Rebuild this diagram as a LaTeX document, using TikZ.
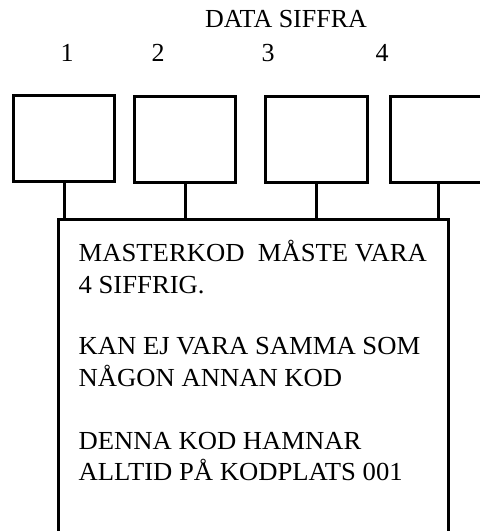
\documentclass[tikz,border=0pt]{standalone}
\usepackage{fontspec}
\setmainfont{Liberation Serif}
\begin{document}
\begin{tikzpicture}[x=1pt,y=-1pt,line width=3.3pt,
  digitbox/.style={draw, minimum height=86pt, inner sep=0pt, anchor=north west},
  lbl/.style={inner sep=0pt, anchor=base, font=\fontsize{26}{32}\selectfont},
  txtline/.style={inner sep=0pt, anchor=base west, font=\fontsize{26}{32}\selectfont, xscale=1.025}]
\useasboundingbox (0,0) rectangle (480,531);
\clip (0,0) rectangle (480,531);
\node[lbl] (title) at (286,27) {DATA SIFFRA};
\node[lbl] (d1) at (67,61) {1};
\node[lbl] (d2) at (158,61) {2};
\node[lbl] (d3) at (268,61) {3};
\node[lbl] (d4) at (382,61) {4};
\node[digitbox, minimum width=101pt] (b1) at (12,94) {};
\node[digitbox, minimum width=101pt] (b2) at (133,95) {};
\node[digitbox, minimum width=102pt] (b3) at (264,95) {};
\node[digitbox, minimum width=96pt] (b4) at (389,95) {};
\node[draw, minimum width=390pt, minimum height=330pt, inner sep=0pt, anchor=north west] (big) at (57,218) {};
\foreach \b in {b1,b2,b3,b4} {\draw (\b.south) -- (\b.south |- big.north);}
\node[txtline] (t1) at (77,261) {MASTERKOD\ \ MÅSTE VARA};
\node[txtline] (t2) at (77,293) {4 SIFFRIG.};
\node[txtline] (t3) at (77,354) {KAN EJ VARA SAMMA SOM};
\node[txtline] (t4) at (77,386) {NÅGON ANNAN KOD};
\node[txtline] (t5) at (77,449) {DENNA KOD HAMNAR};
\node[txtline] (t6) at (77,480) {ALLTID PÅ KODPLATS 001};
\end{tikzpicture}
\end{document}
